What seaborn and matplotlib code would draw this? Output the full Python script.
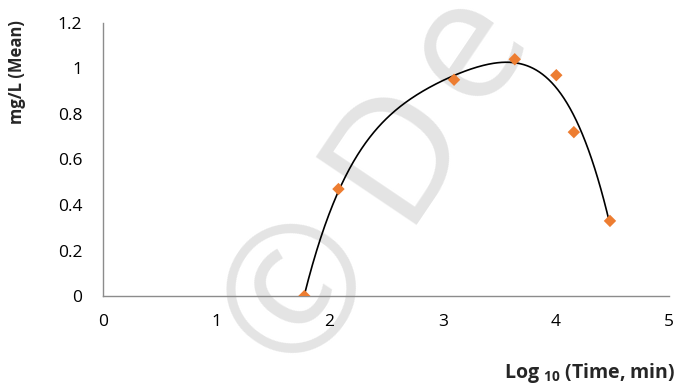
import numpy as np
import pandas as pd
import matplotlib
matplotlib.use("Agg")
import matplotlib.pyplot as plt
import seaborn as sns
from matplotlib.font_manager import FontProperties
from matplotlib.textpath import TextPath

# Measured concentration against log10 of elapsed time
log_time = [1.778, 2.079, 3.100, 3.636, 4.003, 4.158, 4.477]
conc_mean = [0.0, 0.47, 0.95, 1.04, 0.97, 0.72, 0.33]
x_ticks = [0, 1, 2, 3, 4, 5]
y_ticks = [0, 0.2, 0.4, 0.6, 0.8, 1.0, 1.2]
y_tick_labels = ["0", "0.2", "0.4", "0.6", "0.8", "1", "1.2"]
trend_order = 4

sns.set_theme(style="white")
plt.rcParams["font.family"] = ["Open Sans", "DejaVu Sans"]
plt.rcParams["mathtext.fontset"] = "custom"
plt.rcParams["mathtext.rm"] = "Open Sans"
plt.rcParams["mathtext.bf"] = "Open Sans:bold"

DPI = 100
W, H = 678, 387

df = pd.DataFrame({"log_time": log_time, "conc": conc_mean})

# Polynomial trendline over the measured range
coef = np.polyfit(df["log_time"], df["conc"], trend_order)
xs = np.linspace(min(log_time), max(log_time), 300)
trend = pd.DataFrame({"x": xs, "y": np.polyval(coef, xs)})

fig = plt.figure(figsize=(W / DPI, H / DPI), dpi=DPI)
ax = fig.add_axes([0.152, 0.235, 0.835, 0.706])
ax.patch.set_alpha(0)

# Watermark, text running at 56 degrees behind the plot
wm_angle = 56.0
wm_color = "#e4e4e4"
t = np.deg2rad(wm_angle)
pt2px = DPI / 72


def rot(x, y):
    return (x * np.cos(t) - y * np.sin(t), x * np.sin(t) + y * np.cos(t))


def ink_extents(s, size):
    return TextPath((0, 0), s, prop=FontProperties(family="Open Sans", size=size)).get_extents()


def watermark_glyph(s, size, ref_x, ref_y, px, py):
    """Place glyph s so that its ink point (ref_x, ref_y), given in
    points from the text origin, lands on pixel (px, py) from top-left."""
    k = pt2px
    ox, oy = rot(ref_x * k, ref_y * k)
    fig.text((px - ox) / W, (H - py - oy) / H, s, fontsize=size,
             color=wm_color, family="Open Sans", rotation=wm_angle,
             rotation_mode="anchor", ha="left", va="baseline", zorder=-5)


# copyright ring, 128 px across
ext = ink_extents("©", 100)
c_size = 100 * 128.0 / ((ext.x1 - ext.x0) * pt2px)
ext = ink_extents("©", c_size)
watermark_glyph("©", c_size, (ext.x0 + ext.x1) / 2, (ext.y0 + ext.y1) / 2,
                287.5, 281.0)

# letters, cap height about 122 px
ext_d = ink_extents("D", 100)
l_size = 100 * 122.0 / ((ext_d.y1 - ext_d.y0) * pt2px)
ext_d = ink_extents("D", l_size)
watermark_glyph("D", l_size, ext_d.x0, 0.0, 410.0, 211.0)
ext_e = ink_extents("e", l_size)
watermark_glyph("e", l_size, (ext_e.x0 + ext_e.x1) / 2,
                (ext_e.y0 + ext_e.y1) / 2, 466.0, 45.0)

sns.lineplot(data=trend, x="x", y="y", ax=ax, color="black", lw=1.2,
             zorder=3)
sns.scatterplot(data=df, x="log_time", y="conc", ax=ax, marker="D",
                color="#ED7D31", s=40, edgecolor="none", zorder=4)

ax.set_xlim(0, 5)
ax.set_ylim(0, 1.2)
ax.set_xticks(x_ticks)
ax.set_yticks(y_ticks)
ax.set_yticklabels(y_tick_labels)
ax.set_xlabel("")
ax.set_ylabel("")

for side in ("top", "right"):
    ax.spines[side].set_visible(False)
for side in ("left", "bottom"):
    ax.spines[side].set_color("#8c8c8c")
    ax.spines[side].set_linewidth(1.0)
ax.tick_params(axis="both", which="major", direction="out", length=5,
               width=1.0, color="#8c8c8c", labelsize=12.5,
               labelcolor="black", pad=8)
ax.tick_params(axis="y", pad=10)

fig.text(0.025, 0.815, "mg/L (Mean)", rotation=90, ha="center",
         va="center", fontsize=12, fontweight="bold")
fig.text(0.997, 0.022, r"Log $_{\mathbf{10}}$ (Time, min)", ha="right",
         va="baseline", fontsize=14, fontweight="bold")

fig.savefig("out.png", dpi=DPI)
